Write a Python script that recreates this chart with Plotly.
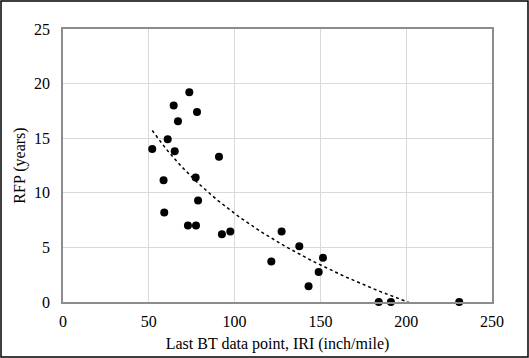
import numpy as np
import plotly.graph_objects as go

iri = [52.0, 61.0, 64.5, 73.6, 78.1, 67.0, 65.1, 58.6, 59.0, 77.3, 78.7, 72.8, 77.5,
       90.9, 92.6, 97.5, 121.4, 127.4, 137.7, 151.5, 149.0, 143.1, 184.0, 191.1, 230.9]
rfp = [14.0, 14.9, 18.0, 19.2, 17.4, 16.55, 13.8, 11.15, 8.2, 11.4, 9.3, 7.0, 7.0,
       13.3, 6.2, 6.45, 3.7, 6.45, 5.1, 4.05, 2.75, 1.45, 0.0, 0.0, 0.0]

x_ticks = [0, 50, 100, 150, 200, 250]
y_ticks = [0, 5, 10, 15, 20, 25]

# logarithmic trendline (least squares on ln x), as in spreadsheet charts
a, b = np.polyfit(np.log(iri), rfp, 1)
tx = np.linspace(min(iri), max(iri), 300)
ty = a * np.log(tx) + b

FONT = "Liberation Serif, Times New Roman, serif"
FS = 16

fig = go.Figure()
fig.add_trace(go.Scatter(x=tx, y=ty, mode="lines",
                         line=dict(color="black", width=1.5, dash="dot"),
                         hoverinfo="skip", showlegend=False))
fig.add_trace(go.Scatter(x=iri, y=rfp, mode="markers",
                         marker=dict(color="black", size=8),
                         cliponaxis=False, showlegend=False))

W, H = 529, 358
L, R, T, B = 63, 37, 29, 56
pw, ph = W - L - R, H - T - B

fig.update_layout(
    width=W, height=H,
    margin=dict(l=L, r=R, t=T, b=B, autoexpand=False),
    paper_bgcolor="white", plot_bgcolor="white",
    font=dict(family=FONT, size=FS, color="black"),
    xaxis=dict(range=[0, 250], tickvals=x_ticks, showgrid=True, gridcolor="#d9d9d9",
               gridwidth=1, zeroline=False, showline=True, linecolor="#8c8c8c",
               linewidth=1.5, mirror=True, ticks="", ticklen=0, automargin=False,
               ticklabelstandoff=4,
               tickfont=dict(size=FS), title=dict(text="Last BT data point, IRI (inch/mile)",
                                                  font=dict(size=FS), standoff=9)),
    yaxis=dict(range=[0, 25], tickvals=y_ticks, showgrid=True, gridcolor="#d9d9d9",
               gridwidth=1, zeroline=False, showline=True, linecolor="#8c8c8c",
               linewidth=1.5, mirror=True, ticks="", ticklen=0, automargin=False,
               ticklabelstandoff=8,
               tickfont=dict(size=FS), title=dict(text="RFP (years)", font=dict(size=FS),
                                                  standoff=4)),
)

# outer chart frame
fig.add_shape(type="rect", xref="paper", yref="paper",
              x0=(1 - L) / pw, x1=(W - 1 - L) / pw,
              y0=-(H - 1 - T - ph) / ph, y1=1 + (T - 1) / ph,
              line=dict(color="black", width=1.5), layer="above")

fig.write_html("out.html", config={"displayModeBar": False},
               post_script="document.body.style.margin='0';document.body.style.overflow='hidden';")
